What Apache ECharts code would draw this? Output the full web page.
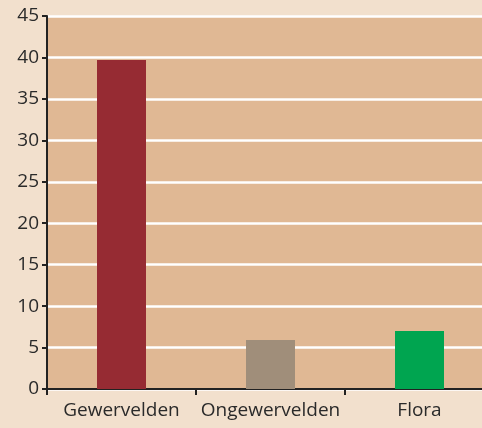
<!DOCTYPE html>
<html><head><meta charset="utf-8">
<script src="https://cdn.jsdelivr.net/npm/echarts@6/dist/echarts.min.js"></script>
<style>html,body{margin:0;padding:0;background:#f2e0cd;overflow:hidden;}#c{width:494px;height:428px;}</style>
</head><body><div id="c"></div>
<script>
const categories = ['Gewervelden', 'Ongewervelden', 'Flora'];
const values = [39.7, 5.9, 7.0];
const barColors = ['#962b33', '#a08e7a', '#00a550'];
const yTicks = [0, 5, 10, 15, 20, 25, 30, 35, 40, 45];

const chart = echarts.init(document.getElementById('c'));
chart.setOption({
  backgroundColor: '#f2e0cd',
  animation: false,
  grid: { left: 47, right: 0, top: 16, bottom: 39, show: true, backgroundColor: '#e0b894', borderWidth: 0 },
  xAxis: {
    type: 'category', data: categories,
    axisLine: { lineStyle: { color: '#222', width: 2 } },
    axisTick: { show: true, alignWithLabel: false, length: 6, lineStyle: { color: '#222', width: 2 } },
    axisLabel: { color: '#2a2a2a', fontSize: 19, fontFamily: 'Open Sans', margin: 12, interval: 0 }
  },
  yAxis: {
    type: 'value', min: 0, max: 45, interval: 5,
    axisLine: { show: true, lineStyle: { color: '#222', width: 2 } },
    axisTick: { show: true, length: 5, lineStyle: { color: '#222', width: 2 } },
    axisLabel: { color: '#2a2a2a', fontSize: 19, fontFamily: 'Open Sans', margin: 8,
      formatter: v => yTicks.includes(v) ? String(v) : '' },
    splitLine: { show: true, lineStyle: { color: '#ffffff', width: 2.5 } }
  },
  series: [{
    type: 'bar', barWidth: 49,
    data: values.map((v, i) => ({ value: v, itemStyle: { color: barColors[i] } }))
  }]
});
</script></body></html>
